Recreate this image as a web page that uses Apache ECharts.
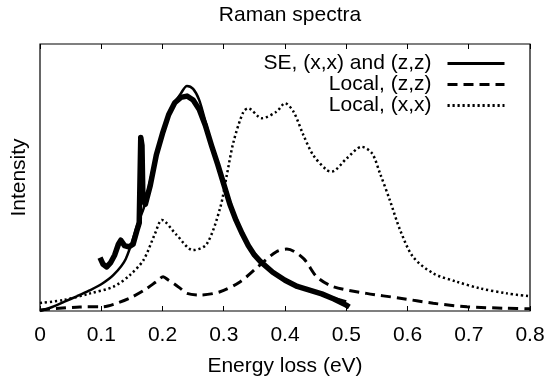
<!DOCTYPE html>
<html>
<head>
<meta charset="utf-8">
<script src="https://cdn.jsdelivr.net/npm/echarts@6/dist/echarts.min.js"></script>
<style>
    html, body { margin: 0; padding: 0; background: #fff; }
    #raman-chart { width: 548px; height: 386px; }
</style>
</head>
<body>
<div id="raman-chart"></div>
<script>
// x tick labels (eV)
var xTicks = ['0', '0.1', '0.2', '0.3', '0.4', '0.5', '0.6', '0.7', '0.8'];

// SE fit, (x,x) and (z,z)
var seX = [0, 0.02, 0.04, 0.06, 0.08, 0.10, 0.12, 0.14, 0.16, 0.17, 0.18, 0.19, 0.20, 0.21, 0.22, 0.23, 0.24, 0.25, 0.26, 0.27, 0.28, 0.29, 0.30, 0.31, 0.32, 0.33, 0.34, 0.35, 0.36, 0.38, 0.40, 0.42, 0.44, 0.46, 0.48, 0.50];
var seY = [0, 0.015, 0.035, 0.055, 0.076, 0.10, 0.135, 0.195, 0.33, 0.39, 0.49, 0.59, 0.665, 0.735, 0.78, 0.815, 0.843, 0.832, 0.79, 0.71, 0.625, 0.555, 0.485, 0.41, 0.345, 0.29, 0.25, 0.215, 0.19, 0.147, 0.114, 0.094, 0.077, 0.062, 0.049, 0.036];

// measured spectrum (thick noisy band)
var expX = [0.098, 0.103, 0.109, 0.115, 0.122, 0.128, 0.132, 0.138, 0.145, 0.152, 0.158, 0.162, 0.1645, 0.1665, 0.168, 0.172, 0.18, 0.19, 0.20, 0.21, 0.22, 0.23, 0.24, 0.25, 0.26, 0.27, 0.28, 0.29, 0.30, 0.31, 0.32, 0.33, 0.34, 0.35, 0.36, 0.38, 0.40, 0.42, 0.44, 0.46, 0.48, 0.50, 0.505];
var expY = [0.20, 0.175, 0.165, 0.18, 0.21, 0.25, 0.265, 0.245, 0.24, 0.25, 0.30, 0.33, 0.65, 0.62, 0.42, 0.40, 0.47, 0.585, 0.665, 0.735, 0.78, 0.80, 0.805, 0.79, 0.755, 0.695, 0.62, 0.55, 0.475, 0.40, 0.34, 0.29, 0.245, 0.21, 0.185, 0.145, 0.115, 0.092, 0.078, 0.064, 0.045, 0.022, 0.015];

// Local, (z,z)
var zzX = [0, 0.065, 0.103, 0.12, 0.147, 0.17, 0.19, 0.201, 0.21, 0.22, 0.23, 0.24, 0.261, 0.294, 0.327, 0.359, 0.386, 0.403, 0.43, 0.452, 0.479, 0.533, 0.588, 0.642, 0.697, 0.762, 0.8];
var zzY = [0.004, 0.015, 0.016, 0.025, 0.049, 0.078, 0.11, 0.128, 0.115, 0.10, 0.083, 0.066, 0.06, 0.072, 0.11, 0.172, 0.222, 0.232, 0.197, 0.128, 0.091, 0.066, 0.048, 0.029, 0.016, 0.01, 0.008];

// Local, (x,x)
var xxX = [0, 0.038, 0.082, 0.12, 0.147, 0.169, 0.188, 0.199, 0.223, 0.25, 0.272, 0.294, 0.305, 0.316, 0.332, 0.34, 0.362, 0.386, 0.40, 0.414, 0.43, 0.446, 0.468, 0.476, 0.501, 0.525, 0.542, 0.555, 0.571, 0.588, 0.609, 0.642, 0.68, 0.718, 0.762, 0.8];
var xxY = [0.03, 0.041, 0.066, 0.091, 0.135, 0.191, 0.291, 0.341, 0.285, 0.228, 0.25, 0.385, 0.509, 0.634, 0.746, 0.759, 0.722, 0.746, 0.778, 0.746, 0.659, 0.584, 0.528, 0.522, 0.572, 0.615, 0.591, 0.516, 0.416, 0.303, 0.203, 0.141, 0.11, 0.085, 0.066, 0.055];

function pairs(xs, ys) {
    return xs.map(function (x, i) { return [x, ys[i]]; });
}

var font = 'Liberation Sans, Arial, Helvetica, sans-serif';
var ramanChart = echarts.init(document.getElementById('raman-chart'), null, { renderer: 'canvas' });

var option = {
    backgroundColor: '#fff',
    animation: false,
    title: {
        text: 'Raman spectra',
        left: 285,
        top: 0,
        textAlign: 'center',
        textStyle: { fontFamily: font, fontSize: 21, fontWeight: 'normal', color: '#000' }
    },
    grid: {
        left: 40, right: 18, top: 44, bottom: 75,
        show: true, borderColor: '#000', borderWidth: 1.2, backgroundColor: 'transparent'
    },
    legend: {
        orient: 'vertical',
        right: 37,
        top: 48,
        align: 'right',
        itemGap: 0,
        itemWidth: 57,
        itemHeight: 10,
        selectedMode: false,
        itemStyle: { opacity: 0 },
        lineStyle: { width: 3 },
        data: ['SE, (x,x) and (z,z)', 'Local, (z,z)', 'Local, (x,x)'],
        textStyle: { fontFamily: font, fontSize: 21, color: '#000', padding: [0, 11, 0, 0] }
    },
    xAxis: [{
        type: 'value',
        position: 'bottom',
        min: 0, max: 0.8, interval: 0.1,
        name: 'Energy loss (eV)',
        nameLocation: 'middle',
        nameGap: 45,
        nameTextStyle: { fontFamily: font, fontSize: 21, color: '#000' },
        axisLine: { show: false },
        axisTick: { inside: true, length: 5, lineStyle: { color: '#000' } },
        axisLabel: {
            margin: 14, fontFamily: font, fontSize: 21, color: '#000',
            formatter: function (v) { return xTicks[Math.round(v * 10)]; }
        },
        splitLine: { show: false }
    }, {
        type: 'value',
        position: 'top',
        min: 0, max: 0.8, interval: 0.1,
        axisLine: { show: false },
        axisTick: { inside: true, length: 5, lineStyle: { color: '#000' } },
        axisLabel: { show: false },
        splitLine: { show: false }
    }],
    yAxis: {
        type: 'value',
        min: 0, max: 1,
        name: 'Intensity',
        nameLocation: 'middle',
        nameGap: 10,
        nameTextStyle: { fontFamily: font, fontSize: 21, color: '#000' },
        axisLine: { show: false },
        axisTick: { show: false },
        axisLabel: { show: false },
        splitLine: { show: false }
    },
    series: [{
        // 实验数据
        name: 'exp',
        type: 'line',
        symbol: 'none',
        data: pairs(expX, expY),
        lineStyle: { color: '#000', width: 5.5, join: 'round' },
        z: 2
    }, {
        name: 'SE, (x,x) and (z,z)',
        type: 'line',
        symbol: 'none',
        smooth: 0.3,
        data: pairs(seX, seY),
        itemStyle: { color: '#000' },
        lineStyle: { color: '#000', width: 2.5 },
        z: 3
    }, {
        name: 'Local, (z,z)',
        type: 'line',
        symbol: 'none',
        smooth: 0.3,
        data: pairs(zzX, zzY),
        itemStyle: { color: '#000' },
        lineStyle: { color: '#000', width: 3, type: [10, 6] },
        z: 3
    }, {
        name: 'Local, (x,x)',
        type: 'line',
        symbol: 'none',
        smooth: 0.3,
        data: pairs(xxX, xxY),
        itemStyle: { color: '#000' },
        lineStyle: { color: '#000', width: 2.5, type: [2.2, 2.8] },
        z: 3
    }]
};
ramanChart.setOption(option);
</script>
</body>
</html>
